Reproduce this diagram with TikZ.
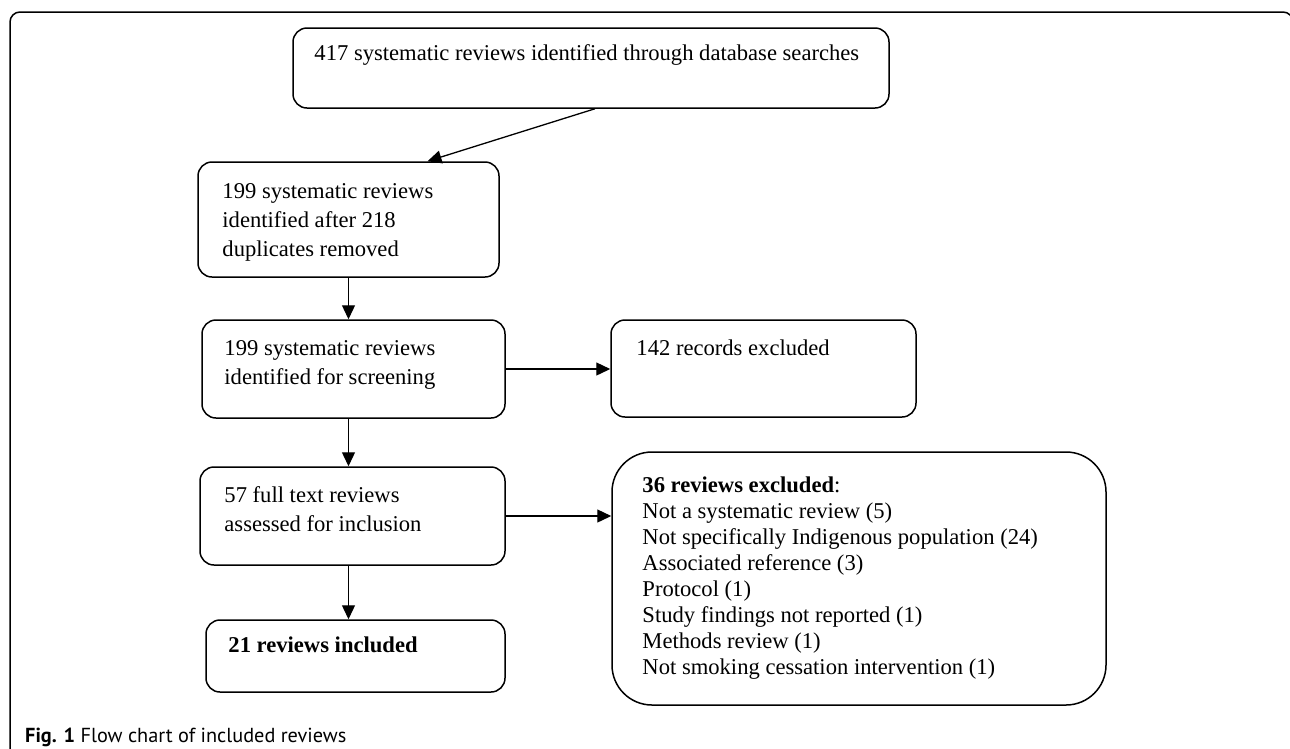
\documentclass[tikz,border=0pt]{standalone}
\usepackage{fontspec}
\setmainfont{Liberation Serif}
\newfontfamily\capfont{PT Sans}
\usetikzlibrary{arrows.meta}

\begin{document}
\begin{tikzpicture}[x=1pt,y=-1pt,
		box/.style={draw, line width=1.5pt, rounded corners=14pt, inner sep=0pt},
		txt/.style={anchor=base west, align=left, inner sep=0pt, font=\fontsize{22.6}{29}\selectfont},
		arr/.style={line width=1.3pt, -{Triangle[length=14pt,width=13pt]}}]
		\useasboundingbox (0,0) rectangle (1290,748);
		% outer frame
		\draw[line width=1.5pt, rounded corners=10pt] (10,760) -- (10,12) -- (1293,12) -- (1293,760);
		% boxes
		\node[box, minimum width=596pt, minimum height=80pt] (srch) at (591,68) {};
		\node[box, minimum width=301pt, minimum height=115pt] (dup) at (348.5,219.5) {};
		\node[box, minimum width=303pt, minimum height=98pt] (scr) at (353.5,369) {};
		\node[box, minimum width=305pt, minimum height=97pt] (rec) at (763.5,368.5) {};
		\node[box, minimum width=305pt, minimum height=98pt] (full) at (352.5,516) {};
		\node[box, minimum width=494pt, minimum height=253pt, rounded corners=40pt] (excl) at (859,578.5) {};
		\node[box, minimum width=299pt, minimum height=72pt] (inc) at (355.5,656) {};
		% texts (base = last line)
		\node[txt] (srchtxt) at ([shift={(22,33)}]srch.north west) {417 systematic reviews identified through database searches};
		\node[txt] (duptxt) at ([shift={(25,95)}]dup.north west) {199 systematic reviews\\identified after 218\\duplicates removed};
		\node[txt] (scrtxt) at ([shift={(23,65)}]scr.north west) {199 systematic reviews\\identified for screening};
		\node[txt] (rectxt) at ([shift={(26,36)}]rec.north west) {142 records excluded};
		\node[txt] (fulltxt) at ([shift={(25,65)}]full.north west) {57 full text reviews\\assessed for inclusion};
		\node[txt, font=\fontsize{22.6}{25.9}\selectfont] (excltxt) at ([shift={(31,223)}]excl.north west) {\textbf{36 reviews excluded}:\\
			Not a systematic review (5)\\
			Not specifically Indigenous population (24)\\
			Associated reference (3)\\
			Protocol (1)\\
			Study findings not reported (1)\\
			Methods review (1)\\
			Not smoking cessation intervention (1)};
		\node[txt] (inctxt) at ([shift={(23,33)}]inc.north west) {\textbf{21 reviews included}};
		% arrows
		\draw[arr] ([xshift=4pt]srch.south) -- ([xshift=79pt]dup.north);
		\draw[arr] (dup.south) -- (dup.south |- scr.north);
		\draw[arr] (scr.east) -- (scr.east -| rec.west);
		\draw[arr] (dup.south |- scr.south) -- (dup.south |- full.north);
		\draw[arr] (full.east) -- (full.east -| excl.west);
		\draw[arr] (dup.south |- full.south) -- (dup.south |- inc.north);
		% caption
		\node[anchor=base west, inner sep=0pt, font=\capfont\fontsize{20.3}{22}\selectfont] (cap) at (25,742) {\textbf{Fig. 1} Flow chart of included reviews};
	\end{tikzpicture}
\end{document}
